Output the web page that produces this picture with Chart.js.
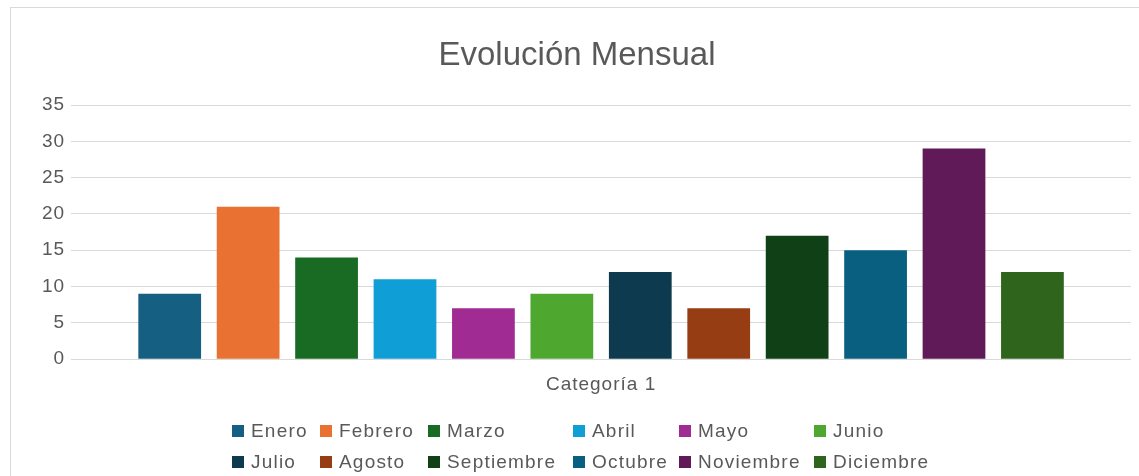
<!DOCTYPE html>
<html lang="es">
<head>
<meta charset="utf-8">
<title>Evolución Mensual</title>
<script src="https://cdn.jsdelivr.net/npm/chart.js@4/dist/chart.umd.min.js"></script>
<style>
  body { margin: 0; background: #fff; overflow: hidden; }
  #wrap { position: relative; width: 1139px; height: 476px; overflow: hidden; }
  #frame {
    position: absolute; left: 10px; top: 7px; width: 1200px; height: 600px;
    border: 1px solid #d9d9d9; box-sizing: border-box;
  }
  #myChart { position: absolute; left: 0; top: 0; }
  #titulo {
    position: absolute; left: 10px; width: 1134px; top: 35px;
    text-align: center; line-height: 38px;
    font-family: "Liberation Sans", Arial, sans-serif;
    font-size: 33px; color: #595959;
  }
  #leyenda {
    position: absolute; left: 232px; top: 420px;
    display: grid;
    grid-template-columns: 88px 108px 145px 106px 135px auto;
    row-gap: 10px;
    font-family: "Liberation Sans", Arial, sans-serif;
    font-size: 19px; letter-spacing: 1.2px; color: #595959;
  }
  .item { display: flex; align-items: center; white-space: nowrap; height: 21px; }
  .caja { width: 12px; height: 12px; margin-right: 7px; flex: none; }
</style>
</head>
<body>
<div id="wrap">
  <div id="frame"></div>
  <canvas id="myChart" width="1139" height="476"></canvas>
  <div id="titulo">Evolución Mensual</div>
  <div id="leyenda"></div>
</div>
<script>
const categorias = ["Categoría 1"];
const meses = ["Enero", "Febrero", "Marzo", "Abril", "Mayo", "Junio",
  "Julio", "Agosto", "Septiembre", "Octubre", "Noviembre", "Diciembre"];
const valores = [9, 21, 14, 11, 7, 9, 12, 7, 17, 15, 29, 12];
const colores = ["#156082", "#e97132", "#196b24", "#0f9ed5", "#a02b93", "#4ea72e",
  "#0d3a4e", "#973d14", "#0f4016", "#095f80", "#601a58", "#2f641c"];
const ticksY = [0, 5, 10, 15, 20, 25, 30, 35];

const gris = "#595959";
const fuente = "'Liberation Sans', Arial, sans-serif";

// un dataset por mes, todos sobre la misma categoria
const datasets = meses.map((mes, i) => ({
  label: mes,
  data: [valores[i]],
  backgroundColor: colores[i],
  categoryPercentage: 0.888,
  barPercentage: 0.8,
}));

// texto de ejes un poco mas espaciado
const espaciado = {
  id: "espaciado",
  beforeUpdate(chart) { chart.ctx.letterSpacing = "1px"; },
  beforeDraw(chart) { chart.ctx.letterSpacing = "1px"; },
};

const ctx = document.getElementById("myChart");
const grafico = new Chart(ctx, {
  type: "bar",
  data: { labels: categorias, datasets: datasets },
  plugins: [espaciado],
  options: {
    responsive: false,
    devicePixelRatio: 1,
    animation: false,
    layout: { padding: { left: 36, right: 8, top: 105, bottom: 74 } },
    plugins: {
      legend: { display: false },
      tooltip: { enabled: false },
    },
    scales: {
      x: {
        grid: { display: false },
        border: { display: false },
        ticks: { color: gris, font: { family: fuente, size: 19 }, padding: 6 },
      },
      y: {
        min: ticksY[0],
        max: ticksY[ticksY.length - 1],
        ticks: { stepSize: 5, color: gris, font: { family: fuente, size: 19 }, padding: 6 },
        grid: { color: "#d9d9d9", drawTicks: false },
        border: { display: false },
      },
    },
  },
});

// leyenda en rejilla de 6 columnas
const leyenda = document.getElementById("leyenda");
meses.forEach((mes, i) => {
  const item = document.createElement("div");
  item.className = "item";
  item.innerHTML = `<span class="caja" style="background:${colores[i]}"></span>${mes}`;
  leyenda.appendChild(item);
});
</script>
</body>
</html>
